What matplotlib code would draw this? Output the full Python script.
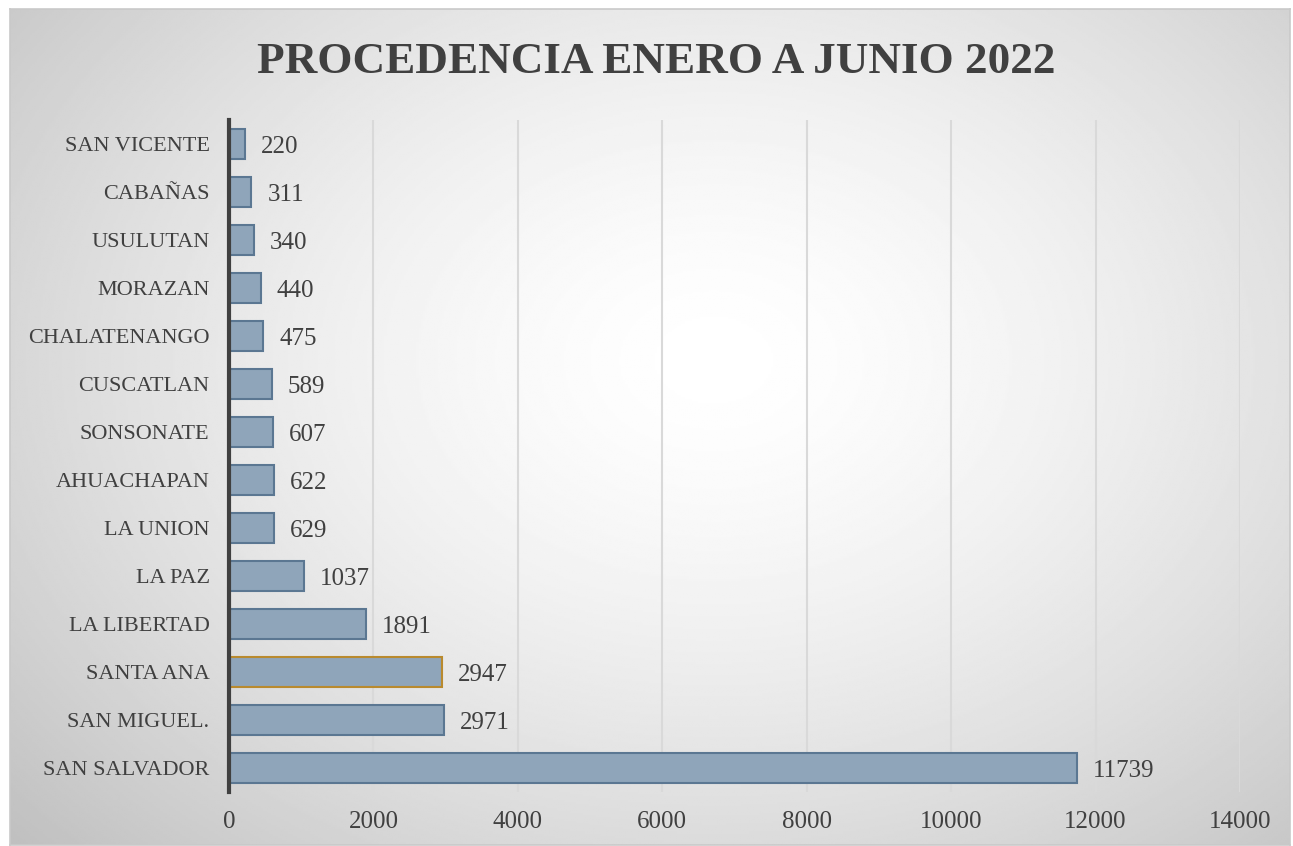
import matplotlib.pyplot as plt
import numpy as np

departamentos = ["SAN VICENTE", "CABAÑAS", "USULUTAN", "MORAZAN", "CHALATENANGO",
                 "CUSCATLAN", "SONSONATE", "AHUACHAPAN", "LA UNION", "LA PAZ",
                 "LA LIBERTAD", "SANTA ANA", "SAN MIGUEL.", "SAN SALVADOR"]
valores = [220, 311, 340, 440, 475, 589, 607, 622, 629, 1037, 1891, 2947, 2971, 11739]
xticks = [0, 2000, 4000, 6000, 8000, 10000, 12000, 14000]

W, H = 1293, 846
fig = plt.figure(figsize=(W / 100, H / 100), dpi=100)
fig.patch.set_facecolor("white")

# background with radial gradient
bg = fig.add_axes([10 / W, 1 - 845 / H, 1280 / W, 836 / H])
yy, xx = np.mgrid[0:1:400j, 0:1:600j]
r = np.sqrt(((xx - 0.55) / 0.75) ** 2 + ((yy - 0.42) / 0.85) ** 2)
shade = 1.0 - 0.25 * np.clip(r, 0, 1) ** 1.5
bg.imshow(shade, cmap="gray", vmin=0, vmax=1, extent=[0, 1, 0, 1],
          aspect="auto", origin="upper")
bg.set_xticks([])
bg.set_yticks([])
for s in bg.spines.values():
    s.set_color("#c9c9c9")
    s.set_linewidth(1.2)

ax = fig.add_axes([229 / W, 1 - 792 / H, (1240 - 229) / W, (792 - 120) / H])
ax.patch.set_alpha(0)
y = np.arange(len(departamentos))
bars = ax.barh(y, valores, height=0.62, color="#8fa5ba", edgecolor="#5b7792",
               linewidth=1.5, zorder=3)
bars[departamentos.index("SANTA ANA")].set_edgecolor("#b98a2e")

for yi, v in zip(y, valores):
    ax.text(v + 220, yi, str(v), va="center_baseline", ha="left", fontsize=18,
            color="#404040", family="Liberation Serif", zorder=4)

ax.set_ylim(len(departamentos) - 0.5, -0.5)
ax.set_xlim(0, 14000)
ax.set_xticks(xticks)
ax.set_xticklabels([str(t) for t in xticks], fontsize=18, color="#404040",
                   family="Liberation Serif")
ax.set_yticks(y)
ax.set_yticklabels(departamentos, fontsize=16, color="#404040",
                   family="Liberation Serif")
ax.tick_params(axis="x", length=0, pad=14)
ax.tick_params(axis="y", length=0, pad=14)
for lab in ax.get_yticklabels():
    lab.set_verticalalignment("center_baseline")
ax.xaxis.grid(True, color="#d9d9d9", linewidth=1.5, zorder=0)
for s in ["top", "right", "bottom"]:
    ax.spines[s].set_visible(False)
ax.spines["left"].set_color("#404040")
ax.spines["left"].set_linewidth(3)
ax.spines["left"].set_zorder(5)

fig.text(656 / W, 1 - 62 / H, "PROCEDENCIA ENERO A JUNIO 2022", ha="center",
         va="center", fontsize=32.5, fontweight="bold", color="#404040",
         family="Liberation Serif")

fig.savefig("out.png", dpi=100)
